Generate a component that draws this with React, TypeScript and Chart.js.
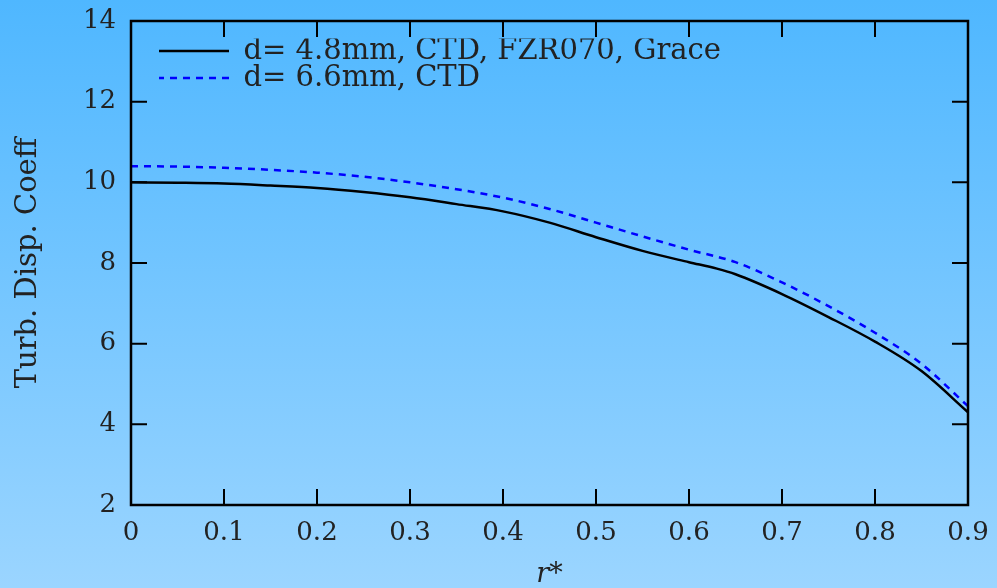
import React, { useEffect, useRef } from 'react';
import { Chart, registerables } from 'chart.js';

Chart.register(...registerables);

// Radial position r*
const rBlack = [0, 0.05, 0.1, 0.15, 0.2, 0.25, 0.3, 0.35, 0.4, 0.45, 0.5, 0.55, 0.6, 0.63, 0.65, 0.7, 0.75, 0.8, 0.85, 0.9];
const coeffD48 = [10.0, 9.99, 9.97, 9.92, 9.86, 9.76, 9.63, 9.46, 9.28, 9.0, 8.64, 8.3, 8.02, 7.86, 7.72, 7.23, 6.66, 6.05, 5.32, 4.3];

const rBlue = [0, 0.05, 0.1, 0.15, 0.2, 0.25, 0.3, 0.35, 0.4, 0.45, 0.5, 0.55, 0.6, 0.65, 0.7, 0.75, 0.8, 0.85, 0.9];
const coeffD66 = [10.4, 10.39, 10.36, 10.31, 10.24, 10.14, 10.0, 9.83, 9.62, 9.34, 9.0, 8.66, 8.33, 8.02, 7.52, 6.93, 6.27, 5.5, 4.45];

const seriesLabels = ['d= 4.8mm, CTD, FZR070, Grace', 'd= 6.6mm, CTD'];

const xTicks = [0, 0.1, 0.2, 0.3, 0.4, 0.5, 0.6, 0.7, 0.8, 0.9];
const xTickLabels = ['0', '0.1', '0.2', '0.3', '0.4', '0.5', '0.6', '0.7', '0.8', '0.9'];
const yTicks = [2, 4, 6, 8, 10, 12, 14];
const yTickLabels = ['2', '4', '6', '8', '10', '12', '14'];

const FONT = "'DejaVu Serif', 'Liberation Serif', serif";
const TEXT = '#222222';

const framePlugin = {
  id: 'frameTicks',
  afterLayout(chart: any) {
    const lg = chart.legend;
    if (lg) {
      lg.left = chart.chartArea.left + 28;
      lg.top = chart.chartArea.top + 17.5;
    }
  },
  afterDatasetsDraw(chart: any) {
    const { ctx, chartArea, scales } = chart;
    const { left, right, top, bottom } = chartArea;
    const L = 16;
    ctx.save();
    ctx.strokeStyle = '#000';
    ctx.lineWidth = 2;
    ctx.setLineDash([]);
    ctx.beginPath();
    xTicks.forEach((v) => {
      const px = scales.x.getPixelForValue(v);
      ctx.moveTo(px, bottom);
      ctx.lineTo(px, bottom - L);
      ctx.moveTo(px, top);
      ctx.lineTo(px, top + L);
    });
    yTicks.forEach((v) => {
      const py = scales.y.getPixelForValue(v);
      ctx.moveTo(left, py);
      ctx.lineTo(left + L, py);
      ctx.moveTo(right, py);
      ctx.lineTo(right - L, py);
    });
    ctx.stroke();
    ctx.lineWidth = 2.5;
    ctx.strokeRect(left, top, right - left, bottom - top);
    ctx.restore();
  },
};

export default function App() {
  const canvasRef = useRef<HTMLCanvasElement | null>(null);

  useEffect(() => {
    const canvas = canvasRef.current;
    if (!canvas) return;
    const chart = new Chart(canvas, {
      type: 'line',
      data: {
        datasets: [
          {
            label: seriesLabels[0],
            data: rBlack.map((r, i) => ({ x: r, y: coeffD48[i] })),
            borderColor: '#000000',
            backgroundColor: '#000000',
            borderWidth: 2.5,
            pointRadius: 0,
            cubicInterpolationMode: 'monotone',
            fill: false,
          },
          {
            label: seriesLabels[1],
            data: rBlue.map((r, i) => ({ x: r, y: coeffD66[i] })),
            borderColor: '#0000ff',
            backgroundColor: '#0000ff',
            borderWidth: 2.5,
            borderDash: [7, 6],
            pointRadius: 0,
            cubicInterpolationMode: 'monotone',
            fill: false,
          },
        ],
      },
      options: {
        animation: false,
        responsive: false,
        devicePixelRatio: 1,
        layout: { padding: { top: 21, right: 29, left: 0, bottom: 0 } },
        plugins: {
          tooltip: { enabled: false },
          legend: {
            position: 'chartArea',
            align: 'start',
            labels: {
              usePointStyle: true,
              pointStyle: 'line',
              pointStyleWidth: 72,
              padding: -2,
              color: TEXT,
              font: { family: FONT, size: 29 },
              generateLabels: (ch: any) => {
                const items = Chart.defaults.plugins.legend.labels.generateLabels(ch);
                items.forEach((it: any, i: number) => {
                  const ds: any = ch.data.datasets[i];
                  it.lineDash = ds.borderDash || [];
                  it.lineWidth = ds.borderWidth;
                  it.strokeStyle = ds.borderColor;
                  it.pointStyle = 'line';
                });
                return items;
              },
            },
          },
        },
        scales: {
          x: {
            type: 'linear',
            min: 0,
            max: 0.9,
            afterFit: (s: any) => {
              s.height = 83;
              s.paddingLeft = 0;
              s.paddingRight = 0;
            },
            afterBuildTicks: (s: any) => {
              s.ticks = xTicks.map((v) => ({ value: v }));
            },
            grid: { display: false, drawTicks: false },
            border: { display: false },
            ticks: {
              padding: 13,
              color: TEXT,
              font: { family: FONT, size: 26 },
              maxRotation: 0,
              autoSkip: false,
              callback: (_v: any, i: number) => xTickLabels[i],
            },
            title: {
              display: true,
              text: 'r*',
              color: TEXT,
              font: { family: FONT, size: 27, style: 'italic', lineHeight: 1 },
              padding: { top: 0, bottom: 0 },
            },
          },
          y: {
            type: 'linear',
            min: 2,
            max: 14,
            afterFit: (s: any) => {
              s.width = 131;
              s.paddingTop = 0;
              s.paddingBottom = 0;
            },
            afterBuildTicks: (s: any) => {
              s.ticks = yTicks.map((v) => ({ value: v }));
            },
            grid: { display: false, drawTicks: false },
            border: { display: false },
            ticks: {
              padding: 15,
              color: TEXT,
              font: { family: FONT, size: 26 },
              autoSkip: false,
              callback: (_v: any, i: number) => yTickLabels[i],
            },
            title: {
              display: true,
              text: 'Turb. Disp. Coeff',
              color: TEXT,
              font: { family: FONT, size: 29, lineHeight: 1.2 },
              padding: { top: 11, bottom: 0 },
            },
          },
        },
      },
      plugins: [framePlugin],
    } as any);
    return () => chart.destroy();
  }, []);

  return (
    <div
      style={{
        position: 'absolute',
        left: 0,
        top: 0,
        width: 997,
        height: 588,
        background: 'linear-gradient(to bottom, #4fb7ff 0%, #9bd5ff 100%)',
      }}
    >
      <canvas ref={canvasRef} width={997} height={588} style={{ display: 'block' }} />
    </div>
  );
}
